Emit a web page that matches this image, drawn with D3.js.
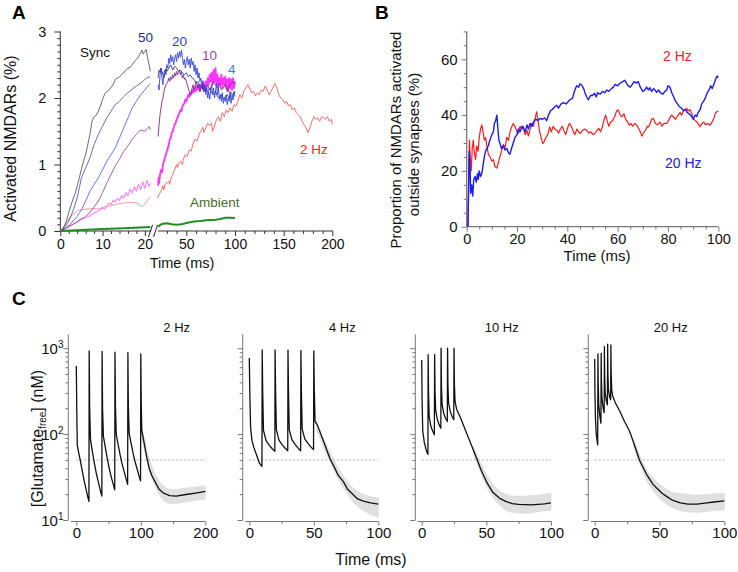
<!DOCTYPE html>
<html><head><meta charset="utf-8">
<script src="https://cdn.jsdelivr.net/npm/d3@7"></script>
<style>body{margin:0;background:#fff} svg text{font-family:Arial,"Liberation Sans",Helvetica,sans-serif;font-weight:400}</style>
</head><body>
<script>
// ===================== DATA =====================
// Panel A: activated NMDARs (%) vs time (ms); L = 0-21 ms segment, R = 21-200 ms segment
const syncL = [[0,0],[0.5,0.02],[1,0.08],[1.5,0.16],[2,0.28],[2.5,0.38],[3,0.48],[3.5,0.56],[4,0.68],[4.5,0.8],[5,0.93],[5.5,1.05],[6,1.15],[6.5,1.3],[7,1.45],[7.5,1.65],[8,1.72],[8.5,1.74],[9,1.8],[9.5,1.88],[10,1.98],[10.5,2.06],[11,2.1],[11.5,2.12],[12,2.16],[12.5,2.2],[13,2.28],[13.5,2.3],[14,2.32],[14.5,2.35],[15,2.38],[15.5,2.42],[16,2.45],[16.5,2.46],[17,2.5],[17.5,2.55],[18,2.58],[18.5,2.62],[19,2.68],[19.3,2.72],[19.6,2.66],[20,2.7],[20.3,2.73],[20.6,2.62],[21,2.5],[21.3,2.4]];
const hz50L = [[0,0],[1,0.05],[2,0.15],[3,0.3],[4,0.5],[5,0.8],[6,0.95],[7,1.1],[8,1.3],[9,1.45],[10,1.58],[11,1.7],[12,1.8],[13,1.9],[14,1.95],[15,2.02],[16,2.08],[17,2.13],[18,2.18],[19,2.22],[20,2.28],[21,2.32],[21.3,2.3]];
const hz50R = [[21,2.3],[22,2.42],[23,2.38],[24,2.45],[25,2.4],[26,2.35],[27,2.3],[28,2.38],[29,2.44],[30,2.4],[32,2.45],[34,2.5],[36,2.42],[38,2.48],[40,2.45],[42,2.4],[44,2.42],[46,2.38],[48,2.35],[50,2.38],[52,2.32],[54,2.35],[56,2.3],[58,2.28],[60,2.22],[62,2.25],[64,2.18],[66,2.15],[68,2.2],[70,2.12],[72,2.1],[74,2.15],[76,2.08],[78,2.05],[80,2.1],[82,2.02],[84,2.0],[86,2.05],[88,1.98],[90,2.02],[92,2.05],[94,2.0],[96,2.08],[98,2.05],[100,2.1]];
const hz20L = [[0,0],[1,0.03],[2,0.08],[3,0.15],[4,0.22],[5,0.32],[6,0.45],[7,0.6],[8,0.7],[9,0.8],[10,0.92],[11,1.05],[12,1.15],[13,1.25],[14,1.4],[15,1.55],[16,1.7],[17,1.85],[18,1.95],[19,2.05],[20,2.12],[21,2.2],[21.3,2.22]];
const hz20R = [[21,2.2],[22,2.12],[23,2.35],[24,2.45],[25,2.3],[26,2.2],[27,2.38],[28,2.42],[29,2.35],[30,2.5],[31,2.45],[32,2.6],[33,2.52],[34,2.65],[35,2.55],[36,2.62],[37,2.5],[38,2.6],[39,2.65],[40,2.55],[41,2.68],[42,2.6],[43,2.7],[44,2.62],[45,2.72],[46,2.6],[47,2.5],[48,2.58],[49,2.45],[50,2.55],[51,2.62],[52,2.5],[53,2.58],[54,2.45],[55,2.6],[56,2.5],[57,2.55],[58,2.4],[59,2.5],[60,2.35],[61,2.45],[62,2.3],[63,2.38],[64,2.25],[65,2.3],[66,2.15],[67,2.25],[68,2.1],[69,2.2],[70,2.05],[71,2.15],[72,2.0],[73,2.1],[74,1.98],[75,2.1],[76,2.2],[77,2.05],[78,2.15],[79,2.0],[80,2.1],[81,2.22],[82,2.05],[83,2.15],[84,1.98],[85,2.05],[86,1.95],[87,2.08],[88,1.92],[89,2.0],[90,1.95],[91,2.05],[92,1.9],[93,2.0],[94,1.95],[95,2.1],[96,1.92],[97,2.05],[98,1.97],[99,2.1],[100,2.02]];
const hz10L = [[0,0],[1,0.03],[2,0.07],[3,0.1],[4,0.14],[5,0.18],[6,0.22],[7,0.28],[8,0.36],[9,0.45],[10,0.58],[11,0.72],[12,0.85],[13,0.98],[14,1.08],[15,1.2],[16,1.28],[17,1.38],[18,1.45],[19,1.52],[20,1.5],[21,1.57],[21.3,1.52]];
const hz10R = [[21,1.42],[22,1.6],[23,1.75],[24,1.85],[25,1.95],[26,2.0],[27,2.1],[28,2.15],[29,2.2],[30,2.22],[31,2.25],[32,2.3],[33,2.25],[34,2.32],[35,2.28],[36,2.35],[37,2.3],[38,2.38],[39,2.33],[40,2.4],[41,2.35],[42,2.38],[43,2.42],[44,2.35],[45,2.4],[46,2.3],[47,2.35],[48,2.28],[49,2.3],[50,2.25],[51,2.2],[52,2.15],[53,2.1],[54,2.05],[55,2.08],[56,2.15],[57,2.2],[58,2.12],[59,2.18],[60,2.25],[61,2.2],[62,2.15],[63,2.2],[64,2.1],[65,2.15],[66,2.2],[67,2.12],[68,2.18],[69,2.1],[70,2.15],[72,2.2],[74,2.12],[76,2.18],[78,2.25],[80,2.2],[82,2.15],[84,2.22],[86,2.12],[88,2.15],[90,2.2],[92,2.1],[94,2.18],[96,2.22],[98,2.25],[100,2.2]];
const hz4L = [[0,0],[1,0.03],[2,0.06],[3,0.1],[4,0.14],[5,0.18],[6,0.2],[7,0.23],[8,0.27],[9,0.3],[10,0.35],[10.5,0.33],[11,0.38],[11.5,0.42],[12,0.4],[12.5,0.46],[13,0.44],[13.5,0.49],[14,0.46],[14.5,0.53],[15,0.5],[15.5,0.58],[16,0.53],[16.5,0.63],[17,0.57],[17.5,0.66],[18,0.6],[18.5,0.7],[19,0.62],[19.5,0.74],[20,0.64],[20.5,0.76],[21,0.67],[21.3,0.72]];
const hz4R = [[21,0.68],[21.5,0.8],[22,0.72],[23,0.85],[24,0.92],[25,0.88],[26,1.0],[27,1.05],[28,1.1],[29,1.15],[30,1.2],[31,1.25],[32,1.3],[33,1.38],[34,1.4],[35,1.48],[36,1.5],[37,1.55],[38,1.6],[39,1.62],[40,1.68],[41,1.7],[42,1.75],[43,1.78],[44,1.82],[45,1.8],[46,1.88],[47,1.9],[48,1.92],[49,1.98],[50,1.95],[51,2.0],[52,2.05],[53,2.02],[54,2.08],[55,2.05],[56,2.12],[57,2.08],[58,2.15],[59,2.1],[60,2.18],[61,2.12],[62,2.2],[63,2.15],[64,2.1],[65,2.2],[66,2.15],[67,2.25],[68,2.1],[69,2.2],[70,2.25],[71,2.15],[72,2.3],[73,2.2],[74,2.35],[75,2.25],[76,2.38],[77,2.2],[78,2.42],[79,2.25],[80,2.45],[81,2.2],[82,2.35],[83,2.15],[84,2.3],[85,2.2],[86,2.35],[87,2.15],[88,2.3],[89,2.2],[90,2.32],[91,2.15],[92,2.28],[93,2.1],[94,2.3],[95,2.15],[96,2.28],[97,2.12],[98,2.3],[99,2.15],[100,2.25]];
const hz2L = [[0,0],[1,0.08],[2,0.18],[3,0.25],[4,0.3],[5,0.32],[6,0.33],[7,0.33],[8,0.34],[9,0.33],[10,0.35],[11,0.37],[12,0.38],[13,0.4],[14,0.41],[15,0.42],[16,0.43],[17,0.43],[18,0.42],[19,0.38],[19.5,0.37],[20,0.4],[20.5,0.45],[21,0.5],[21.3,0.52]];
const hz2R = [[20.5,0.5],[22,0.55],[24,0.6],[26,0.68],[27,0.62],[28,0.7],[30,0.72],[32,0.75],[33,0.7],[34,0.78],[36,0.85],[38,0.92],[40,1.0],[41,0.95],[42,1.02],[44,1.05],[46,1.0],[47,1.08],[49,1.15],[51,1.12],[53,1.22],[55,1.2],[57,1.32],[59,1.38],[61,1.35],[63,1.45],[65,1.5],[67,1.56],[68,1.48],[70,1.55],[72,1.62],[74,1.58],[76,1.62],[77,1.5],[79,1.58],[81,1.68],[83,1.72],[85,1.65],[87,1.78],[89,1.72],[91,1.82],[93,1.78],[95,1.85],[97,1.8],[99,1.9],[101,1.88],[103,1.95],[105,2.05],[107,2.0],[109,2.1],[111,2.15],[113,2.2],[115,2.15],[117,2.08],[119,2.1],[121,2.03],[123,2.08],[125,2.05],[127,2.12],[129,2.1],[131,2.18],[133,2.12],[135,2.05],[137,2.1],[139,2.15],[141,2.22],[143,2.15],[145,2.05],[147,2.0],[149,1.98],[151,1.92],[153,1.95],[155,1.88],[157,1.9],[159,1.82],[161,1.85],[163,1.78],[165,1.75],[167,1.72],[169,1.65],[171,1.6],[173,1.55],[175,1.48],[177,1.55],[179,1.65],[181,1.72],[183,1.68],[185,1.7],[187,1.65],[189,1.72],[191,1.7],[193,1.68],[195,1.72],[197,1.65],[199,1.68],[200,1.6]];
const ambientL = [[0,0],[5,0.015],[10,0.03],[15,0.04],[21.3,0.06]];
const ambientR = [[21,0.065],[23,0.09],[26,0.11],[30,0.115],[35,0.1],[40,0.095],[45,0.1],[50,0.12],[55,0.135],[60,0.145],[65,0.15],[70,0.16],[75,0.165],[80,0.17],[85,0.18],[90,0.2],[95,0.2],[100,0.195]];
const ticksAL = [0,10,20];
const ticksAR = [50,100,150,200];
const ticksAY = [0,1,2,3];

// Panel B: proportion of NMDARs activated outside synapses (%)
const outside2Hz = [[0.5,0],[0.8,20],[1.1,31],[1.4,25],[1.8,20],[2.2,28],[2.6,31],[3,27],[3.5,24],[4,29],[4.5,27],[5,32],[5.5,35],[6,36.5],[6.5,34],[7,31],[7.5,32],[8,29],[8.6,26],[9.3,25],[10,23.5],[10.6,24],[11.2,21.5],[12,21],[12.6,23],[13.2,25],[13.8,27],[14.6,29.5],[15.2,28],[15.9,32],[16.6,31],[17.2,34],[17.9,35.8],[18.5,37],[19.2,36],[20,34],[20.5,33.4],[21.2,36],[22,35],[22.5,36],[23.2,33],[24,34.5],[24.5,32.5],[25.2,35],[25.8,37],[26.5,36],[27.2,39],[27.8,41.2],[28.5,37],[29,34],[29.6,32],[30.2,29.8],[30.8,30.5],[31.5,32],[32.2,33],[33,35.8],[33.6,34],[34.4,36],[35,35],[35.8,34.6],[36.5,33.5],[37.2,35],[38,36],[38.6,34.5],[39.3,33],[40,35],[40.5,36.5],[41,37],[41.8,35.5],[42.4,34],[43,33],[43.8,35],[44.5,34],[45.2,33.4],[46,34.5],[46.8,35],[47.7,34.6],[48.5,33.5],[49.3,34],[50.3,33],[51,33.5],[51.8,34.5],[52.5,35.2],[53.2,34],[54,36],[54.6,38.5],[55.2,40],[55.8,38],[56.5,36],[57.2,37.5],[58,38],[58.8,39.5],[59.6,41.5],[60.3,41.8],[61,40],[61.7,39.4],[62.5,40.5],[63.2,38.5],[64,37.5],[64.6,36.4],[65.3,37],[66,36],[66.8,37],[67.5,36.5],[68.2,35.5],[69,34],[69.6,32.5],[70.2,33.5],[71,34.5],[71.8,36],[72.4,35.8],[73.5,38.5],[74.2,38.8],[75,37],[75.8,36.5],[76.8,37.5],[77.6,36],[78.4,37],[79.5,37],[80.2,38],[81,39.5],[81.5,40],[82.1,39.4],[83,38.5],[84,40],[84.8,41],[85.5,40],[86.2,41.8],[87,42],[87.4,42.4],[88,41.5],[88.7,42],[89.5,40.5],[90,38.8],[90.8,38],[91.6,37.5],[92.7,35.8],[93.5,37],[94.2,37.5],[95,36.5],[95.8,37],[96.7,36.4],[97.5,37.5],[98.3,39],[98.8,40.6],[99.4,41.2],[100,41.5]];
const outside20Hz = [[0.5,0],[0.8,15],[1,27],[1.3,22],[1.6,12],[2,15],[2.4,11],[2.8,17],[3.3,18],[3.8,16],[4.3,19],[4.6,17],[5,20],[5.5,18],[6,19],[6.5,22],[7,25],[7.5,27],[8,28],[8.6,29],[9.2,31],[10,33],[10.6,34],[11,37],[11.5,38],[12,40],[12.4,35],[12.8,31],[13.2,30],[13.8,28],[14.5,29],[15.2,27.5],[16,28],[16.6,26.5],[17.2,26],[17.8,28],[18.5,30],[19.2,32],[20,33],[20.5,35],[21.2,34],[22,36],[22.5,35.5],[23.2,34],[24,36.5],[24.5,35],[25.2,37],[26,36],[26.5,37.5],[27.5,38.5],[28.3,38],[29,38.8],[30,38.5],[31,39],[31.8,38],[32.5,40],[33.3,41.5],[34,42],[35,43],[35.8,43.5],[36.5,42.5],[37.5,44],[38.4,44.5],[39.5,44],[41,45.5],[42,46],[43,49],[43.7,50.5],[44.5,50],[45,51.2],[45.7,50.8],[46.5,49.5],[47,48],[47.7,46.5],[48.3,45.5],[49.2,47],[50,47],[50.8,47.8],[51.5,46.5],[52,48],[53,47.5],[54,48.5],[55,48],[55.6,49],[56.5,48.5],[57.5,49.5],[58.3,50],[59,51],[60,50.5],[61,51.5],[62,52],[62.8,52.5],[63.5,51.5],[64.2,50.5],[65,50],[65.8,51],[66.5,52],[67.5,51.5],[68.2,52],[69,50],[70,48.5],[70.8,49],[71.5,50],[72.2,49],[72.8,49.8],[73.5,48.5],[74.3,49.5],[75,48.8],[75.5,48.2],[76.3,49],[77,48],[78,47.5],[78.8,48.5],[79.5,49],[80,50.5],[80.8,50],[81.5,48],[82.3,46.5],[83,45],[83.8,44],[84.5,43],[85.4,42.5],[86.2,41.5],[87,42],[87.6,41],[88.4,40.5],[89.4,39.5],[90,38.5],[90.8,40],[91.4,39.5],[92,41],[92.8,42],[93.4,44],[94.2,45],[95,46.5],[95.6,48],[96.3,49],[97,50.5],[97.6,49.5],[98.2,51],[99,53],[99.5,54],[100,53.5]];
const ticksBX = [0,20,40,60,80,100];
const ticksBY = [0,20,40,60];

// Panel C: free glutamate (nM), mean trace [t, nM] and trial spread [t, low, high]
const glu2Hz = [[0,620],[0.7,200],[1.5,75],[3,64],[6,50],[9,38],[12,29],[15,23],[17.5,19],[19.6,16.5],[20,930],[20.7,200],[22,86],[25,62],[28,46],[31,35],[34,28],[37,22.5],[39.6,19],[40,920],[40.7,200],[42,94],[45,70],[48,52],[51,40],[54,32],[57,26.5],[59.6,22.5],[60,900],[60.7,210],[62,98],[65,75],[68,57],[71,45],[74,37],[77,30.5],[79.6,26],[80,885],[80.7,210],[82,102],[85,78],[88,60],[91,48],[94,40],[97,33],[99.6,28.5],[100,860],[100.7,230],[101.5,112],[105,80],[109,55],[113,40],[117,33],[122,28],[128,23],[135,20.6],[145,19.2],[155,19],[170,19.8],[185,20.6],[200,21.5]];
const glu4Hz = [[0,770],[0.4,300],[1,120],[2,85],[3.5,70],[5.5,58],[7.8,46],[9.8,42],[10,955],[10.4,300],[11,110],[13,84],[15.5,74],[18,67],[19.8,63],[20,955],[20.4,300],[21,112],[23,85],[25.5,75],[28,68],[29.8,64],[30,950],[30.4,300],[31,112],[33,86],[35.5,76],[38,68],[39.8,64],[40,940],[40.4,300],[41,114],[43,88],[45.5,78],[48,70],[49.8,66],[50,930],[50.4,320],[51,140],[52.7,128],[57.5,83],[62.5,52],[66,41],[69,33],[72.9,28],[76,23],[80.6,19.7],[84,17.6],[88.4,16.6],[94,15.8],[100,15.3]];
const glu10Hz = [[0,730],[0.3,250],[0.8,110],[2,80],[3.5,65],[4.8,58],[5,840],[5.3,300],[5.8,160],[7,125],[8.5,108],[9.8,98],[10,840],[10.3,320],[10.8,190],[12,150],[13.5,128],[14.8,117],[15,1000],[15.3,350],[15.8,220],[17,175],[18.5,152],[19.8,140],[20,1000],[20.3,360],[20.8,230],[22,185],[23.5,160],[24.8,147],[25,1000],[25.3,380],[25.8,240],[27,195],[30,155],[35,100],[40,65],[43,50],[46,38],[50,28],[55,21],[60,18],[65,16.5],[70,15.5],[75,15.2],[85,15],[95,15.4],[100,15.8]];
const glu20Hz = [[0,750],[0.2,300],[0.6,150],[1.2,100],[2.3,75],[2.5,860],[2.7,400],[3.1,220],[4,160],[4.8,134],[5,870],[5.2,420],[5.6,260],[6.5,200],[7.3,178],[7.5,1040],[7.7,480],[8.1,300],[9,240],[9.8,219],[10,1110],[10.2,500],[10.6,330],[11.5,270],[12.3,251],[12.5,1090],[12.7,520],[13.1,330],[13.8,280],[16,230],[19.5,183],[23,140],[27,107],[31,72],[34.5,50],[40,34],[45,26],[48,23.4],[52,20.5],[56,18.6],[60,17],[66,15.8],[72,15.3],[79,15.3],[85,15.7],[92,16.2],[100,16.7]];
const spread2Hz = [[101,90,120],[105,68,92],[110,46,62],[115,34,47],[120,27,37],[125,22,31],[130,19,27.5],[135,17,25],[140,16,23.5],[150,15.5,22.5],[160,15.8,23],[170,16.2,23.5],[180,16.8,24],[190,17.2,24.5],[200,17.5,25]];
const spread4Hz = [[52,110,140],[56,82,100],[60,58,74],[65,40,52],[70,28,38],[75,21,29],[80,16.5,24],[85,14,21],[90,12.5,19.5],[95,11.5,18.5],[100,10.8,18]];
const spread10Hz = [[40,58,72],[45,38,48],[50,25,34],[55,18.5,26],[60,15,22],[65,13,20],[70,12.3,19],[80,12,19],[90,12.5,19.5],[100,13,20.5]];
const spread20Hz = [[30,70,86],[35,44,56],[40,29,38],[45,22,31],[50,18,26],[55,15.5,23],[60,14,21],[70,12.5,20],[80,12.3,19.5],[90,12.8,20],[100,13.2,20.5]];
const gluThreshold = 50;
const ticksCY = [10,100,1000];
const minorCY = [20,30,40,50,60,70,80,90,200,300,400,500,600,700,800,900];

// ===================== DRAWING =====================
const svg = d3.select("body").append("svg").attr("width",738).attr("height",572).style("display","block");

function addAxis(g, gen, tr, color, fs){
  const a = g.append("g").attr("transform",tr).call(gen);
  a.attr("font-family",null).attr("font-size",fs);
  a.select(".domain").remove();
  a.selectAll(".tick line").attr("stroke",color).attr("stroke-width",1);
  a.selectAll(".tick text").attr("fill","#111");
  return a;
}
function hline(g,x1,x2,y,color,w){return g.append("line").attr("x1",x1).attr("x2",x2).attr("y1",y).attr("y2",y).attr("stroke",color).attr("stroke-width",w||1);}
function vline(g,x,y1,y2,color,w){return g.append("line").attr("x1",x).attr("x2",x).attr("y1",y1).attr("y2",y2).attr("stroke",color).attr("stroke-width",w||1);}
function label(g,x,y,s,opts){
  const t=g.append("text").attr("x",x).attr("y",y).text(s)
    .attr("font-size",opts.fs||13).attr("fill",opts.fill||"#111")
    .attr("text-anchor",opts.anchor||"start");
  if(opts.bold) t.style("font-weight","bold");
  if(opts.rot!==undefined) t.attr("transform",`rotate(${opts.rot},${x},${y})`);
  return t;
}

// Panel letters
label(svg,12,19,"A",{fs:19,bold:true,fill:"#000"});
label(svg,375,19,"B",{fs:19,bold:true,fill:"#000"});
label(svg,12,305,"C",{fs:19,bold:true,fill:"#000"});

// ---------- Panel A ----------
const gA = svg.append("g");
const xL = d3.scaleLinear().domain([0,21.5]).range([60.3,151.2]);
const xR = d3.scaleLinear().domain([21,200]).range([158.1,332.3]);
const yA = d3.scaleLinear().domain([0,3]).range([231,31.5]);
const axA = "#333";
vline(gA,60.3,31.5,231,axA);
hline(gA,60.3,151.2,231,axA);
hline(gA,157.8,333,231,axA);
addAxis(gA,d3.axisLeft(yA).tickValues(ticksAY).tickSize(6).tickPadding(8).tickFormat(d3.format("d")),"translate(60.3,0)",axA,14.5);
addAxis(gA,d3.axisLeft(yA).tickValues(d3.range(1,30).filter(i=>i%10).map(i=>i/10)).tickSize(3).tickFormat(""),"translate(60.3,0)",axA,10);
addAxis(gA,d3.axisBottom(xL).tickValues(ticksAL).tickSize(5).tickPadding(3),"translate(0,231)",axA,14);
addAxis(gA,d3.axisBottom(xL).tickValues([2,4,6,8,12,14,16,18]).tickSize(3).tickFormat(""),"translate(0,231)",axA,10);
addAxis(gA,d3.axisBottom(xR).tickValues(ticksAR).tickSize(5).tickPadding(3),"translate(0,231)",axA,14);
addAxis(gA,d3.axisBottom(xR).tickValues(d3.range(30,200,10).filter(v=>v%50)).tickSize(3).tickFormat(""),"translate(0,231)",axA,10);
// axis break marks
gA.append("line").attr("x1",148.5).attr("y1",237).attr("x2",152.5).attr("y2",225).attr("stroke","#222");
gA.append("line").attr("x1",153.5).attr("y1",237).attr("x2",157.5).attr("y2",225).attr("stroke","#222");

const lineL = d3.line().x(d=>xL(d[0])).y(d=>yA(d[1]));
const lineR = d3.line().x(d=>xR(d[0])).y(d=>yA(d[1]));
const seriesA = [
  {L:hz2L, R:hz2R, cL:"#ff8c8c", cR:"#ff5a5a", w:0.9},
  {L:hz4L, R:hz4R, cL:"#ff80ff", cR:"#ff33ff", w:1.1, wR:1.8},
  {L:hz10L, R:hz10R, cL:"#9a4ea8", cR:"#7c2c8c", w:0.9},
  {L:hz20L, R:hz20R, cL:"#5566f0", cR:"#3346e6", w:0.9},
  {L:hz50L, R:hz50R, cL:"#5a5ab8", cR:"#3a3a8e", w:0.9},
  {L:syncL, R:null, cL:"#444", cR:"#444", w:0.8},
  {L:ambientL, R:ambientR, cL:"#1f8f1f", cR:"#1f8f1f", w:2}
];
seriesA.forEach(s=>{
  gA.append("path").attr("d",lineL(s.L)).attr("fill","none").attr("stroke",s.cL).attr("stroke-width",s.w).attr("stroke-linejoin","round");
  if(s.R) gA.append("path").attr("d",lineR(s.R)).attr("fill","none").attr("stroke",s.cR).attr("stroke-width",s.wR||s.w).attr("stroke-linejoin","round");
});
label(gA,80,56.5,"Sync",{fs:13.5,fill:"#111"});
label(gA,138,41.5,"50",{fs:13.5,fill:"#2b2b8c"});
label(gA,172,46,"20",{fs:13.5,fill:"#2a3ee0"});
label(gA,202,60,"10",{fs:13.5,fill:"#a040c8"});
label(gA,228,74,"4",{fs:13.5,fill:"#4a7bd0"});
label(gA,300,154,"2 Hz",{fs:13.5,fill:"#ff2020"});
label(gA,190,206.5,"Ambient",{fs:13.5,fill:"#4a6b2a"});
label(gA,182,268,"Time (ms)",{fs:14.5,anchor:"middle"});
label(gA,15.5,138.5,"Activated NMDARs (%)",{fs:16,anchor:"middle",rot:-90});

// ---------- Panel B ----------
const gB = svg.append("g");
const xB = d3.scaleLinear().domain([0,100]).range([466.7,718.3]);
const yB = d3.scaleLinear().domain([0,70]).range([226.7,31.4]);
const axB = "#777";
vline(gB,466.7,31.4,226.7,axB,1.3);
hline(gB,466.7,718.3,226.7,axB,1.3);
addAxis(gB,d3.axisLeft(yB).tickValues(ticksBY).tickSize(5).tickPadding(4),"translate(466.7,0)",axB,15);
addAxis(gB,d3.axisLeft(yB).tickValues([5,10,15,25,30,35,45,50,55,65,70]).tickSize(3).tickFormat(""),"translate(466.7,0)",axB,10);
addAxis(gB,d3.axisBottom(xB).tickValues(ticksBX).tickSize(5).tickPadding(2),"translate(0,226.7)",axB,14.5);
addAxis(gB,d3.axisBottom(xB).tickValues(d3.range(5,100,5).filter(v=>v%20)).tickSize(3).tickFormat(""),"translate(0,226.7)",axB,10);
const lineB = d3.line().x(d=>xB(d[0])).y(d=>yB(d[1]));
gB.append("path").attr("d",lineB(outside2Hz)).attr("fill","none").attr("stroke","#ff1a1a").attr("stroke-width",1.2).attr("stroke-linejoin","round");
gB.append("path").attr("d",lineB(outside20Hz)).attr("fill","none").attr("stroke","#1a1aff").attr("stroke-width",1.4).attr("stroke-linejoin","round");
label(gB,663,61,"2 Hz",{fs:14,fill:"#ff2020"});
label(gB,665,167.5,"20 Hz",{fs:14,fill:"#2020e0"});
label(gB,597,261,"Time (ms)",{fs:15,anchor:"middle"});
label(gB,401,140,"Proportion of NMDARs activated",{fs:15,anchor:"middle",rot:-90});
label(gB,419,144.5,"outside synapses (%)",{fs:15,anchor:"middle",rot:-90});

// ---------- Panel C ----------
const gC = svg.append("g");
const yC = d3.scaleLog().domain([10,1450]).range([520,334.3]);
const axC = "#777";
const panelsC = [
  {title:"2 Hz", data:glu2Hz, spread:spread2Hz, xmax:200, major:[0,100,200], minor:[50,150], yx:68.3, x0:76.3, x1:205.3, tx:176.7, ylabels:true},
  {title:"4 Hz", data:glu4Hz, spread:spread4Hz, xmax:100, major:[0,50,100], minor:[25,75], yx:242.7, x0:249.3, x1:378.3, tx:342.3},
  {title:"10 Hz", data:glu10Hz, spread:spread10Hz, xmax:100, major:[0,50,100], minor:[25,75], yx:415.3, x0:421.7, x1:551, tx:501.7},
  {title:"20 Hz", data:glu20Hz, spread:spread20Hz, xmax:100, major:[0,50,100], minor:[25,75], yx:588.3, x0:594.7, x1:724.3, tx:670.7}
];
panelsC.forEach(p=>{
  const g = gC.append("g");
  const x = d3.scaleLinear().domain([0,p.xmax]).range([p.x0,p.x1]);
  g.append("path").attr("d",d3.area().x(d=>x(d[0])).y0(d=>yC(d[1])).y1(d=>yC(d[2])).curve(d3.curveMonotoneX)(p.spread))
    .attr("fill","#e0e0e0").attr("stroke","#d6d6d6").attr("stroke-width",0.6);
  hline(g,x(0),x(p.xmax),yC(gluThreshold),"#9a9a9a",0.8).attr("stroke-dasharray","2,2");
  g.append("path").attr("d",d3.line().x(d=>x(d[0])).y(d=>yC(d[1]))(p.data))
    .attr("fill","none").attr("stroke","#111").attr("stroke-width",1.3).attr("stroke-linejoin","round");
  vline(g,p.yx,yC(1450),yC(10),axC);
  hline(g,p.yx+2.5,p.x1,521.5,axC);
  addAxis(g,d3.axisLeft(yC).tickValues(ticksCY).tickSize(5).tickFormat(""),`translate(${p.yx},0)`,axC,10);
  addAxis(g,d3.axisLeft(yC).tickValues(minorCY).tickSize(3).tickFormat(""),`translate(${p.yx},0)`,axC,10);
  addAxis(g,d3.axisBottom(x).tickValues(p.major).tickSize(4).tickPadding(2),"translate(0,521.5)",axC,15);
  addAxis(g,d3.axisBottom(x).tickValues(p.minor).tickSize(2.5).tickFormat(""),"translate(0,521.5)",axC,10);
  label(g,p.tx,331.7,p.title,{fs:13,anchor:"middle"});
  if(p.ylabels){
    ticksCY.forEach(v=>{
      const t=g.append("text").attr("x",63.5).attr("y",yC(v)+5.5).attr("text-anchor","end")
        .attr("font-size",15).attr("fill","#111");
      t.append("tspan").text("10");
      t.append("tspan").attr("dy",-6).attr("font-size",10).text(String(Math.round(Math.log10(v))));
    });
  }
});
label(gC,371,565,"Time (ms)",{fs:16,anchor:"middle"});
{
  const t=gC.append("text").attr("transform","translate(43,438.5) rotate(-90)").attr("text-anchor","middle")
    .attr("font-size",16).attr("fill","#111");
  t.append("tspan").text("[Glutamate");
  t.append("tspan").attr("font-size",10).attr("dy",3).text("free");
  t.append("tspan").attr("dy",-3).text("] (nM)");
}
</script>
</body></html>
